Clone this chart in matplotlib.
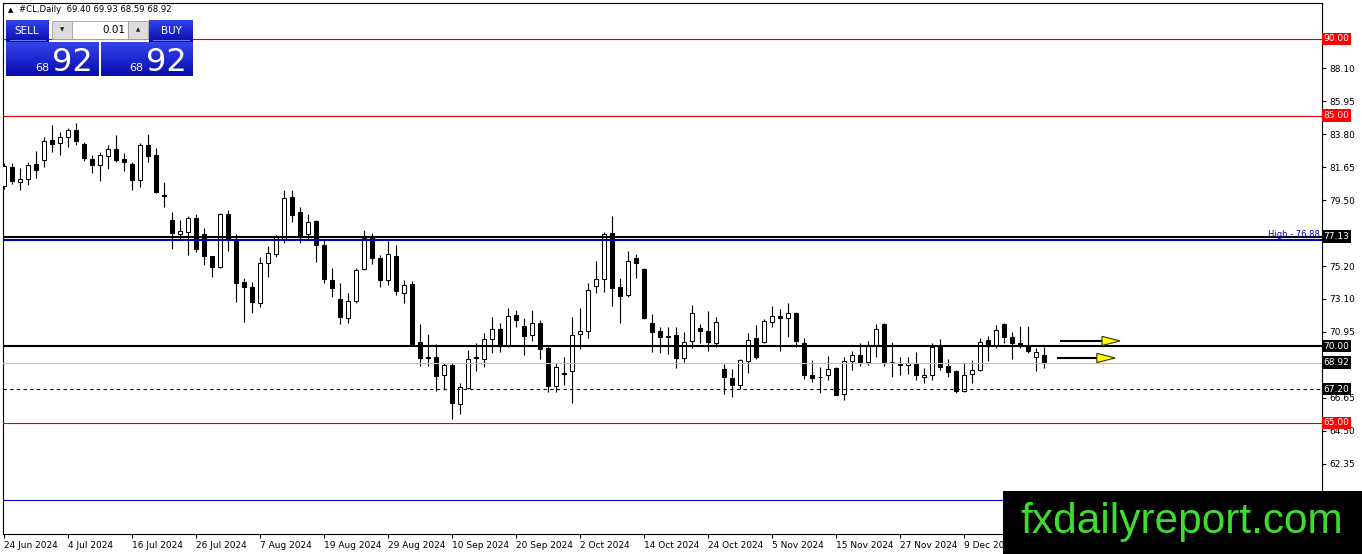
import numpy as np
import matplotlib
matplotlib.use('Agg')
import matplotlib.pyplot as plt
from matplotlib.patches import Rectangle, Polygon
from matplotlib.colors import LinearSegmentedColormap
from matplotlib.transforms import blended_transform_factory

# #CL daily candles, one per weekday starting 24 Jun 2024
opens = [80.43, 81.67, 80.69, 80.89, 81.86, 82.12, 83.43, 83.23, 83.62, 84.08,
         83.17, 82.19, 81.80, 82.38, 82.84, 82.19, 81.86, 80.82, 83.10, 82.45,
         79.85, 78.22, 77.31, 77.44, 78.35, 77.31, 75.87, 75.16, 78.61, 76.98,
         74.18, 73.86, 72.81, 75.42, 76.01, 76.92, 79.71, 78.74, 77.31, 78.15,
         76.59, 74.31, 73.08, 71.84, 72.95, 75.03, 77.11, 75.74, 74.31, 75.87,
         73.47, 74.05, 70.28, 69.30, 69.30, 68.13, 68.78, 66.24, 67.28, 69.30,
         69.17, 70.47, 71.12, 70.02, 72.03, 71.32, 70.73, 71.51, 69.88, 67.41,
         68.26, 68.39, 70.80, 70.99, 73.92, 74.38, 77.37, 73.86, 73.34, 75.74,
         75.03, 71.51, 70.99, 70.67, 70.73, 69.23, 70.34, 71.19, 71.00, 70.21,
         68.52, 67.93, 67.48, 69.04, 70.54, 70.28, 71.58, 71.97, 71.84, 72.16,
         70.21, 68.13, 68.00, 68.13, 68.58, 66.89, 69.04, 69.43, 68.97, 70.08,
         71.45, 69.00, 68.91, 68.78, 68.84, 68.00, 68.13, 69.95, 68.71, 68.39,
         67.09, 68.19, 68.45, 70.41, 70.08, 71.45, 70.60, 70.21, 70.02, 69.30,
         69.40]
highs = [81.93, 81.93, 81.60, 82.00, 82.71, 83.62, 84.40, 83.95, 84.21, 84.53,
         83.30, 82.45, 82.64, 83.10, 83.75, 82.58, 81.99, 83.23, 83.82, 82.90,
         80.69, 78.74, 78.22, 78.48, 78.61, 77.70, 75.90, 78.67, 78.87, 77.31,
         74.44, 74.18, 75.81, 76.53, 77.24, 80.17, 80.17, 79.06, 78.61, 78.20,
         76.92, 75.09, 74.12, 73.47, 75.09, 77.57, 77.37, 75.94, 76.85, 76.59,
         74.31, 74.25, 71.45, 70.80, 70.15, 68.91, 68.91, 67.61, 69.75, 70.21,
         70.86, 71.90, 71.51, 72.49, 72.36, 71.84, 72.36, 71.71, 70.02, 68.91,
         69.30, 71.90, 72.49, 74.12, 75.55, 77.44, 78.48, 74.44, 76.20, 76.01,
         75.09, 72.10, 71.25, 71.25, 71.25, 70.93, 72.68, 71.45, 72.29, 71.90,
         68.84, 68.52, 69.17, 70.86, 71.38, 71.77, 72.62, 72.42, 72.81, 72.20,
         70.54, 69.10, 68.65, 69.36, 68.65, 69.30, 69.69, 70.21, 70.34, 71.45,
         71.48, 70.28, 69.30, 69.30, 69.62, 68.58, 70.21, 70.47, 69.17, 68.45,
         68.91, 69.10, 70.54, 70.67, 71.38, 71.48, 70.93, 71.32, 71.32, 69.88,
         69.93]
lows = [80.24, 80.56, 80.17, 80.50, 80.95, 81.67, 82.64, 82.45, 82.97, 83.10,
        82.06, 81.28, 80.76, 81.54, 81.99, 81.41, 80.17, 80.37, 81.99, 79.98,
        79.06, 76.33, 76.98, 75.94, 76.14, 75.29, 74.51, 75.10, 76.20, 72.88,
        71.58, 72.16, 72.55, 74.51, 75.81, 76.72, 78.08, 76.72, 76.98, 75.48,
        74.12, 73.21, 71.45, 71.51, 72.81, 74.96, 75.35, 73.86, 73.99, 73.34,
        72.81, 70.08, 68.71, 68.71, 67.09, 67.15, 65.26, 65.59, 67.22, 68.39,
        68.65, 69.56, 69.62, 69.95, 71.25, 69.43, 70.34, 69.17, 67.02, 67.02,
        67.48, 66.30, 69.82, 70.54, 73.47, 73.53, 72.62, 71.51, 73.21, 74.44,
        71.77, 69.62, 69.56, 69.49, 68.58, 68.97, 69.88, 70.21, 69.69, 69.95,
        66.89, 66.69, 67.22, 68.26, 69.17, 70.21, 71.25, 69.69, 70.60, 69.95,
        67.87, 67.67, 66.96, 67.80, 66.80, 66.50, 68.45, 68.71, 68.78, 69.30,
        68.71, 68.00, 68.13, 68.19, 67.80, 67.61, 67.80, 68.45, 67.99, 66.96,
        67.02, 67.61, 68.39, 69.04, 69.88, 70.21, 69.17, 69.88, 69.56, 68.39,
        68.59]
closes = [81.73, 80.76, 80.89, 81.80, 81.47, 83.36, 83.17, 83.62, 84.08, 83.36,
          82.25, 81.80, 82.45, 82.84, 82.12, 81.99, 80.82, 83.10, 82.38, 80.04,
          79.80, 77.37, 77.50, 78.35, 76.33, 75.87, 75.16, 78.61, 76.92, 74.12,
          73.86, 72.88, 75.42, 76.07, 77.11, 79.65, 78.54, 77.18, 78.09, 76.59,
          74.38, 73.79, 71.90, 72.95, 74.96, 77.05, 75.74, 74.31, 76.01, 73.60,
          73.99, 70.15, 69.23, 69.23, 68.06, 68.78, 66.30, 67.35, 69.17, 69.23,
          70.47, 71.12, 70.02, 71.97, 71.71, 70.67, 71.51, 69.82, 67.41, 68.65,
          68.19, 70.73, 70.99, 73.66, 74.38, 77.31, 73.79, 73.27, 75.55, 75.42,
          71.84, 70.93, 70.60, 70.60, 69.23, 70.28, 72.16, 71.00, 70.28, 71.58,
          67.99, 67.48, 69.10, 70.41, 69.30, 71.64, 71.97, 71.84, 72.16, 70.34,
          68.13, 67.93, 67.97, 68.52, 66.83, 69.04, 69.43, 68.91, 70.08, 71.12,
          68.97, 68.97, 68.78, 68.91, 68.13, 68.13, 69.95, 68.65, 68.32, 67.09,
          68.13, 68.45, 70.28, 70.08, 71.06, 70.60, 70.21, 70.08, 69.69, 69.62,
          68.92]

date_labels = ['24 Jun 2024', '4 Jul 2024', '16 Jul 2024', '26 Jul 2024',
               '7 Aug 2024', '19 Aug 2024', '29 Aug 2024', '10 Sep 2024',
               '20 Sep 2024', '2 Oct 2024', '14 Oct 2024', '24 Oct 2024',
               '5 Nov 2024', '15 Nov 2024', '27 Nov 2024', '9 Dec 2024']
price_ticks = [62.35, 64.50, 66.65, 70.95, 73.10, 75.20, 79.50, 81.65,
               83.80, 85.95, 88.10]

red_levels = [90.00, 85.00, 65.00]
black_levels = [77.13, 70.00]
high_level = 76.88
bid_level = 68.92
dashed_level = 67.20
blue_level = 60.00

# yellow arrow objects to the right of the last bar
arrow_start = [132.1, 131.75]
arrow_base = [137.25, 136.6]
arrow_tip = [139.5, 138.9]
arrow_price = [70.34, 69.23]

W, H = 1362, 554
fig = plt.figure(figsize=(W / 100, H / 100), dpi=100)
fig.patch.set_facecolor('white')
ax = fig.add_axes([3 / W, 20 / H, 1319 / W, 531 / H])

idx = np.arange(len(opens))
o = np.array(opens)
c = np.array(closes)
up = c >= o

ax.vlines(idx, lows, highs, color='black', lw=0.8, zorder=2)
ax.bar(idx, np.abs(c - o), bottom=np.minimum(o, c), width=0.6,
       color=np.where(up, 'white', 'black'), edgecolor='black',
       linewidth=0.75, zorder=3)

for lv in red_levels:
    ax.axhline(lv, color='#e00000', lw=0.8, zorder=4)
ax.axhline(high_level, color='#0000b4', lw=1.5, zorder=4)
for lv in black_levels:
    ax.axhline(lv, color='black', lw=1.5, zorder=5)
ax.axhline(bid_level, color='#c0c0c0', lw=0.8, zorder=4)
ax.axhline(dashed_level, color='black', lw=0.8, ls=(0, (3, 3)), zorder=4)
ax.axhline(blue_level, color='#0000c8', lw=0.8, zorder=4)

for x0, xb, xt, yp in zip(arrow_start, arrow_base, arrow_tip, arrow_price):
    ax.plot([x0, xb], [yp, yp], color='black', lw=1.5, zorder=6)
    ax.add_patch(Polygon([[xb, yp + 0.3], [xt, yp], [xb, yp - 0.3]],
                         closed=True, fc='#ffff00', ec='#333300', lw=0.8,
                         zorder=7))

ax.set_xlim(-0.125, 164.75)
ax.set_ylim(57.77, 92.34)

ax.yaxis.tick_right()
ax.set_yticks(price_ticks)
ax.set_yticklabels(['%.2f' % t for t in price_ticks])
ax.set_xticks(range(0, 8 * len(date_labels), 8))
ax.set_xticklabels(date_labels, ha='left')
ax.tick_params(axis='y', direction='out', length=3, width=0.8, pad=2,
               labelsize=6.5, colors='black')
ax.tick_params(axis='x', direction='out', length=3, width=0.8, pad=2,
               labelsize=6.5, colors='black')
for s in ax.spines.values():
    s.set_linewidth(0.8)

# price labels on the right axis
tr = blended_transform_factory(ax.transAxes, ax.transData)
box_labels = [(lv, '#ff0000') for lv in red_levels] + \
             [(lv, 'black') for lv in black_levels + [bid_level, dashed_level]]
for lv, col in box_labels:
    ax.text(1.0012, lv, '%.2f' % lv, transform=tr, fontsize=6.5, color='white',
            va='center', ha='left', zorder=10, clip_on=False,
            bbox=dict(boxstyle='square,pad=0.2', fc=col, ec='none'))
ax.text(0.9985, high_level + 0.08, 'High - 76.88', transform=tr, fontsize=6,
        color='#0000b4', va='bottom', ha='right', zorder=6)

# overlay in pixel coordinates: trade panel, header and watermark
ov = fig.add_axes([0, 0, 1, 1], zorder=20)
ov.set_xlim(0, W)
ov.set_ylim(H, 0)
ov.axis('off')
ov.patch.set_alpha(0)

ov.text(8, 10, '\u25b2', fontsize=5, va='center', ha='left', color='black')
ov.text(19, 10, '#CL,Daily  69.40 69.93 68.59 68.92', fontsize=6.1,
        va='center', ha='left', color='black')

blue_grad = LinearSegmentedColormap.from_list('g', ['#3244ec', '#0a0cae'])
grad = np.linspace(0, 1, 64).reshape(-1, 1)
for x0, x1, y0, y1 in [(6, 49, 20, 42), (149, 193, 20, 42),
                       (6, 99, 42, 76), (101, 193, 42, 76)]:
    ov.imshow(grad, cmap=blue_grad, extent=(x0, x1, y1, y0), aspect='auto',
              origin='upper', zorder=1)
ov.plot([10, 45], [40, 40], color='#8090ff', lw=0.6, zorder=2)
ov.plot([153, 189], [40, 40], color='#8090ff', lw=0.6, zorder=2)
ov.add_patch(Rectangle((52, 21), 20, 18, fc='#dcdcdc', ec='#a0a0a0', lw=0.6))
ov.add_patch(Rectangle((72, 21), 56, 18, fc='white', ec='#a0a0a0', lw=0.6))
ov.add_patch(Rectangle((128, 21), 20, 18, fc='#dcdcdc', ec='#a0a0a0', lw=0.6))
ov.text(62, 30, '\u25bc', fontsize=4, ha='center', va='center', color='#202020')
ov.text(138, 30, '\u25b2', fontsize=4, ha='center', va='center', color='#202020')
ov.text(125, 30, '0.01', fontsize=7.5, ha='right', va='center', color='black')
ov.text(27, 31, 'SELL', fontsize=7.5, ha='center', va='center', color='white')
ov.text(171, 31, 'BUY', fontsize=7.5, ha='center', va='center', color='white')
for xs, xb in [(49, 52), (143, 146)]:
    ov.text(xs, 71, '68', fontsize=8, ha='right', va='baseline', color='white')
    ov.text(xb, 71, '92', fontsize=23, ha='left', va='baseline', color='white')

ov.add_patch(Rectangle((1003, 491), W - 1003, H - 491, fc='black', ec='none',
                       zorder=5))
ov.text(1020, 533, 'fxdailyreport.com', fontsize=30.5,
        family=['Liberation Sans', 'DejaVu Sans'], color='#3ddc2e',
        ha='left', va='baseline', zorder=6)

fig.savefig('out.png', dpi=100)
